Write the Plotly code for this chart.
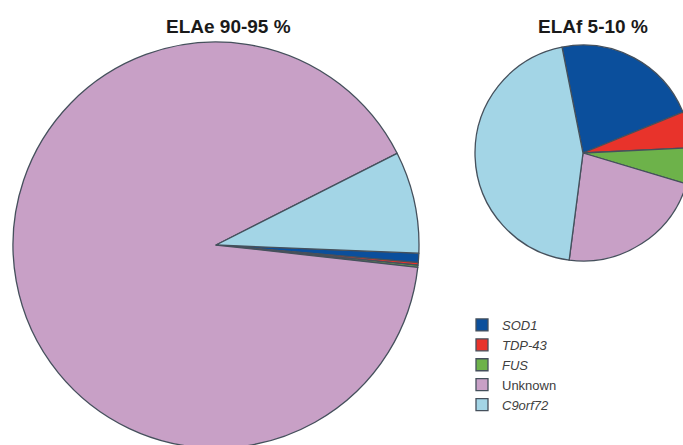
import plotly.graph_objects as go

# ---- data ----
labels = ["SOD1", "TDP-43", "FUS", "Unknown", "C9orf72"]
sporadic_values = [0.75, 0.2, 0.17, 90.8, 8.1]      # ELAe 90-95 %
familial_values = [21.9, 5.4, 5.4, 22.4, 44.8]      # ELAf 5-10 %
titles = ["ELAe 90-95 %", "ELAf 5-10 %"]
colors = ["#0b4f9c", "#e8332b", "#6db24a", "#c8a0c6", "#a3d5e6"]

display_labels = [l if l == "Unknown" else f"<i>{l}</i>" for l in labels]

W, H = 700, 460  # slightly larger than the window so the pies get cropped like the reference


def dom(x0, x1, y0, y1):
    return dict(x=[x0 / W, x1 / W], y=[(H - y1) / H, (H - y0) / H])


line = dict(color="#45505c", width=1.3)

fig = go.Figure()
fig.add_trace(go.Pie(
    labels=display_labels, values=sporadic_values, sort=False,
    direction="clockwise", rotation=92.3, textinfo="none",
    marker=dict(colors=colors, line=line),
    domain=dom(13, 419, 42, 448), hoverinfo="label+percent",
))
fig.add_trace(go.Pie(
    labels=display_labels, values=familial_values, sort=False,
    direction="clockwise", rotation=-11.2, textinfo="none",
    marker=dict(colors=colors, line=line),
    domain=dom(475, 691, 45, 261), hoverinfo="label+percent",
))

for txt, cx in zip(titles, [228, 593]):
    fig.add_annotation(text=f"<b>{txt}</b>", x=cx / W, y=(H - 27) / H,
                       xref="paper", yref="paper", showarrow=False,
                       xanchor="center", yanchor="middle",
                       font=dict(family="Arial, Liberation Sans", size=19, color="#1a1a1a"))

fig.update_layout(
    width=W, height=H,
    margin=dict(l=0, r=0, t=0, b=0),
    paper_bgcolor="white", plot_bgcolor="white",
    showlegend=True,
    legend=dict(
        x=462 / W, y=(H - 310) / H, xanchor="left", yanchor="top",
        font=dict(family="Arial, Liberation Sans", size=13, color="#404040"),
        bgcolor="rgba(0,0,0,0)", tracegroupgap=0,
    ),
)

fig.write_html(
    "out.html",
    post_script="document.documentElement.style.overflow='hidden';document.body.style.overflow='hidden';document.body.style.margin='0';",
)
